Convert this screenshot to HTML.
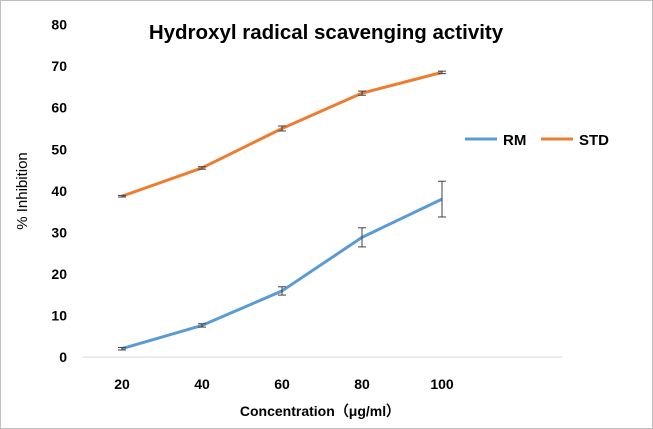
<!DOCTYPE html>
<html><head><meta charset="utf-8"><style>
body{margin:0;background:#fff;}
svg{display:block;font-family:"Liberation Sans",Arial,sans-serif;}
</style></head><body>
<svg id="chart" width="653" height="429">
<rect x="0.5" y="0.5" width="652" height="428" fill="#fff" stroke="#bfbfbf"/>
<text x="326" y="39" text-anchor="middle" font-size="20.5" font-weight="bold" fill="#000">Hydroxyl radical scavenging activity</text>
<text x="320" y="416" text-anchor="middle" font-size="14" font-weight="bold" fill="#000">Concentration（μg/ml）</text>
<text transform="translate(27,191) rotate(-90)" text-anchor="middle" font-size="15" fill="#000">% Inhibition</text>
<line x1="82" y1="357" x2="562" y2="357" stroke="#d9d9d9" stroke-width="1"/>
<g id="yticks"></g><g id="xticks"></g><g id="series"></g>
<g>
<line x1="465" y1="139" x2="497" y2="139" stroke="#5b9bd5" stroke-width="3"/>
<text x="503" y="145" font-size="15" font-weight="bold">RM</text>
<line x1="541" y1="139" x2="573" y2="139" stroke="#ed7d31" stroke-width="3"/>
<text x="579" y="145" font-size="15" font-weight="bold">STD</text>
</g>
</svg>
<script>
const categories=["20","40","60","80","100"];
const rmValues=[2.0,7.6,15.9,28.8,38.0];
const rmErrors=[0.3,0.4,1.0,2.3,4.3];
const stdValues=[38.7,45.5,55.0,63.5,68.5];
const stdErrors=[0.2,0.3,0.6,0.5,0.3];
const yTicks=[0,10,20,30,40,50,60,70,80];
const NS="http://www.w3.org/2000/svg";
function xPos(i){return 122+i*80;}
function yPos(v){return 357-v*4.155;}
function mk(tag,attrs,parent){const e=document.createElementNS(NS,tag);for(const k in attrs)e.setAttribute(k,attrs[k]);parent.appendChild(e);return e;}
const yt=document.getElementById('yticks');
yTicks.forEach(v=>{const t=mk('text',{x:67,y:yPos(v)+5,'text-anchor':'end','font-size':14,'font-weight':'bold'},yt);


t.textContent=v;});
const xt=document.getElementById('xticks');
categories.forEach((c,i)=>{const t=mk('text',{x:xPos(i),y:389,'text-anchor':'middle','font-size':14,'font-weight':'bold'},xt);


t.textContent=c;});
const sg=document.getElementById('series');
function draw(vals,errs,color,name){
 const p=mk('polyline',{points:vals.map((v,i)=>xPos(i)+','+yPos(v)).join(' '),fill:'none',stroke:color,'stroke-width':3,'stroke-linejoin':'round'},sg);
 
 
 vals.forEach((v,i)=>{const g=mk('g',{stroke:'#404040','stroke-width':1},sg);
  
  
  const x=xPos(i),y1=yPos(v+errs[i]),y2=yPos(v-errs[i]);
  mk('line',{x1:x,y1:y1,x2:x,y2:y2},g);
  mk('line',{x1:x-4,y1:y1,x2:x+4,y2:y1},g);
  mk('line',{x1:x-4,y1:y2,x2:x+4,y2:y2},g);});
}
draw(stdValues,stdErrors,'#ed7d31','std');
draw(rmValues,rmErrors,'#5b9bd5','rm');
</script>
</body></html>
